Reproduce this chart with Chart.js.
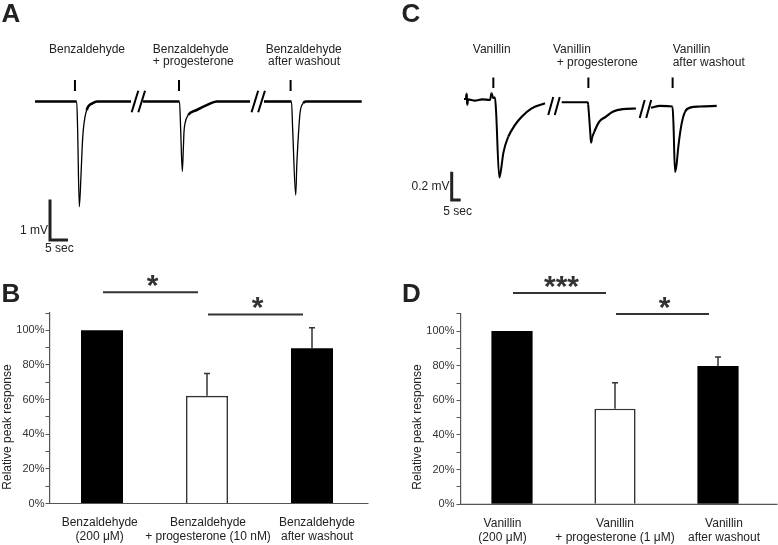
<!DOCTYPE html>
<html><head><meta charset="utf-8">
<script src="https://cdn.jsdelivr.net/npm/chart.js@4.4.1/dist/chart.umd.min.js"></script>
<style>
html,body{margin:0;padding:0;background:#fff;}
#wrap{position:relative;width:778px;height:545px;overflow:hidden;background:#fff;}
#wrap canvas{position:absolute;}
</style></head><body>
<div id="wrap">
<canvas id="cA" width="389" height="265" style="left:0;top:0"></canvas>
<canvas id="cC" width="388" height="265" style="left:390px;top:0"></canvas>
<canvas id="cB" width="390" height="275" style="left:0;top:270px"></canvas>
<canvas id="cD" width="388" height="275" style="left:390px;top:270px"></canvas>
</div>
<script>
// ---------- DATA ----------
// Panel A: benzaldehyde recordings, [time (s), potential (mV)]
const traceA1 = [[0,0],[11.58,0],[11.83,-0.65],[12.31,-2.60],[12.78,-1.81],[13.14,-1.07],[13.42,-0.70],[13.89,-0.38],[14.36,-0.21],[14.81,-0.12],[15.83,-0.05],[17.22,0],[26.67,0]];
const traceA2 = [[30.0,0],[40.14,0],[40.42,-0.58],[40.92,-1.73],[41.19,-1.20],[41.39,-0.75],[41.67,-0.54],[42.58,-0.33],[44.92,-0.21],[47.69,-0.09],[50.47,0],[59.72,0]];
const traceA3 = [[63.61,0],[71.25,0],[71.58,-0.70],[72.42,-2.31],[72.72,-1.57],[73.14,-0.87],[73.61,-0.29],[74.53,-0.04],[75.28,0],[90.75,0]];
const stimA = [11.1, 40.0, 71.0];            // odor pulse times (s)
const breaksA = [[28.7,0],[62.0,0]];         // axis breaks (s, mV)
const scaleA = {mV:1, sec:5};
const labelsA = [['Benzaldehyde'],['Benzaldehyde','+ progesterone'],['Benzaldehyde','after washout']];

// Panel C: vanillin recordings, [time (s), potential (mV)]
const traceC1 = [[0,0.007],[1.11,0.007],[1.5,0.046],[1.78,-0.035],[2.22,0.004],[6.11,-0.004],[10,0.004],[14.44,0],[15.28,0.049],[16.11,0.014],[17.22,0.018],[17.78,-0.071],[19.61,-0.547],[20.56,-0.494],[21.83,-0.376],[24.61,-0.259],[28.33,-0.176],[32.06,-0.118],[37.61,-0.059],[45,-0.023]];
const traceC2 = [[54.28,-0.016],[68.72,-0.016],[68.95,-0.03],[70.2,-0.24],[70.56,-0.301],[71.11,-0.268],[72.39,-0.224],[75.17,-0.153],[78.89,-0.118],[82.61,-0.083],[88.17,-0.064],[95.56,-0.060]];
const traceC3 = [[103.89,-0.054],[108.89,-0.042],[115.83,-0.046],[116.39,-0.176],[117.22,-0.508],[118.06,-0.459],[119.06,-0.330],[120.94,-0.164],[122.78,-0.083],[125.56,-0.054],[131.11,-0.046],[140.39,-0.042]];
const stimC = [16.3, 69.1, 115.9];
const breaksC = [[50,-0.042],[100.8,-0.064]];
const scaleC = {mV:0.2, sec:5};
const labelsC = [['Vanillin'],['Vanillin','+ progesterone'],['Vanillin','after washout']];

// Panel B
const benzCategories = [['Benzaldehyde','(200 μM)'],['Benzaldehyde','+ progesterone (10 nM)'],['Benzaldehyde','after washout']];
const benzMeans = [100, 62.2, 89.7];
const benzErrors = [0, 12.8, 11.8];
const benzComparisons = [[0,1,'*'],[1,2,'*']];

// Panel D
const vanCategories = [['Vanillin','(200 μM)'],['Vanillin','+ progesterone (1 μM)'],['Vanillin','after washout']];
const vanMeans = [100, 55.2, 79.8];
const vanErrors = [0, 15.0, 5.2];
const vanComparisons = [[0,1,'***'],[1,2,'*']];

const yTitle = 'Relative peak response';

// ---------- RENDERING ----------
Chart.defaults.font.family = "'Liberation Sans', Arial, Helvetica, sans-serif";
Chart.defaults.color = '#222';
Chart.defaults.animation = false;
const FONT = "'Liberation Sans', Arial, Helvetica, sans-serif";

function traceChart(id, cfg) {
  const datasets = cfg.segments.map(seg => ({
    data: seg.map(p => ({x:p[0], y:p[1]})),
    borderColor:'#000', borderWidth:cfg.lw, pointRadius:0,
    cubicInterpolationMode:'monotone',
    segment:{borderWidth: c => {
      const dx = Math.abs(c.p1.x - c.p0.x), dy = Math.abs(c.p1.y - c.p0.y);
      return (dy > 6 && dy > 2.5*dx) ? cfg.thin : cfg.lw;
    }}
  }));
  datasets.push({
    data: cfg.stims.flatMap(t => [{x:t,y:cfg.stimLo},{x:t,y:cfg.stimHi},{x:t,y:null}]),
    borderColor:'#000', borderWidth:2, pointRadius:0, spanGaps:false, tension:0
  });
  const a = cfg.scaleAnchor;
  datasets.push({
    data:[{x:a[0],y:a[1]+cfg.scale.mV},{x:a[0],y:a[1]},{x:a[0]+cfg.scale.sec,y:a[1]}],
    borderColor:'#222', borderWidth:3, pointRadius:0, tension:0,
    borderJoinStyle:'miter', borderCapStyle:'butt'
  });
  return new Chart(document.getElementById(id), {
    type:'line',
    data:{datasets},
    options:{
      responsive:false, animation:false, layout:{padding:0},
      plugins:{legend:{display:false}, tooltip:{enabled:false}},
      scales:{
        x:{type:'linear', display:false, min:cfg.xr[0], max:cfg.xr[1]},
        y:{type:'linear', display:false, min:cfg.yr[0], max:cfg.yr[1]}
      }
    },
    plugins:[{
      id:'traceDeco',
      afterDraw(chart){
        const ctx = chart.ctx, xs = chart.scales.x, ys = chart.scales.y;
        ctx.save();
        // axis breaks
        ctx.strokeStyle = '#000'; ctx.lineWidth = 2;
        cfg.breaks.forEach(b => {
          const cx = xs.getPixelForValue(b[0]), cy = ys.getPixelForValue(b[1]);
          const g = cfg.breakGeom;
          [-1,1].forEach(k => {
            const mx = cx + k*g.off/2;
            ctx.beginPath();
            ctx.moveTo(mx - g.dx/2, cy + g.h/2);
            ctx.lineTo(mx + g.dx/2, cy - g.h/2);
            ctx.stroke();
          });
        });
        // texts
        ctx.fillStyle = '#222';
        ctx.font = '12px ' + FONT;
        ctx.textBaseline = 'middle';
        cfg.texts.forEach(t => {
          ctx.textAlign = t.align;
          ctx.fillText(t.s, t.x, t.y);
        });
        // panel letter
        ctx.font = 'bold 26px ' + FONT;
        ctx.textAlign = 'left'; ctx.textBaseline = 'alphabetic';
        ctx.fillText(cfg.letter[0], cfg.letter[1], cfg.letter[2]);
        ctx.restore();
      }
    }]
  });
}

function labelTexts(labels, pos) {
  const out = [];
  labels.forEach((lines, i) => lines.forEach((s, j) => out.push({s, x:pos[i][j][0], y:pos[i][j][1], align:pos[i][j][2]})));
  return out;
}

traceChart('cA', {
  segments:[traceA1, traceA2, traceA3], lw:2.6, thin:1.3,
  stims:stimA, stimLo:0.26, stimHi:0.53,
  scale:scaleA, scaleAnchor:[4.17,-3.42],
  breaks:breaksA, breakGeom:{dx:6.7, off:6.7, h:21.6},
  xr:[-9.722, 98.333], yr:[-4.037, 2.506],
  texts: labelTexts(labelsA, [[[87,49.5,'center']],[[152.7,49.5,'left'],[152.7,62,'left']],[[303.7,49.5,'center'],[304,62,'center']]])
    .concat([{s:'1 mV', x:48, y:230.5, align:'right'},{s:'5 sec', x:45, y:249, align:'left'}]),
  letter:['A', 1.5, 21.7]
});

traceChart('cC', {
  segments:[traceC1, traceC2, traceC3], lw:2.2, thin:2.0,
  stims:stimC, stimLo:0.085, stimHi:0.159,
  scale:scaleC, scaleAnchor:[-6.83,-0.706],
  breaks:breaksC, breakGeom:{dx:5, off:6.5, h:18},
  xr:[-41.11, 174.44], yr:[-1.1644, 0.7057],
  texts: labelTexts(labelsC, [[[101.7,49.5,'center']],[[163,49.5,'left'],[166.7,62.5,'left']],[[282.7,49.5,'left'],[282.7,62.5,'left']]])
    .concat([{s:'0.2 mV', x:59.5, y:186.7, align:'right'},{s:'5 sec', x:53.3, y:211.7, align:'left'}]),
  letter:['C', 11.5, 21.7]
});

function barChart(id, cats, means, errs, comps, L) {
  return new Chart(document.getElementById(id), {
    type:'bar',
    data:{labels:cats, datasets:[{
      data:means,
      backgroundColor: means.map((_,i) => i===1 ? '#fff' : '#000'),
      borderColor:'#333',
      borderWidth: means.map((_,i) => i===1 ? 1.6 : 0),
      barPercentage:0.4, categoryPercentage:1
    }]},
    options:{
      responsive:false, animation:false,
      layout:{padding:{top:L.top, right:L.right, left:0, bottom:0}},
      plugins:{legend:{display:false}, tooltip:{enabled:false}},
      scales:{
        x:{ticks:{display:false}, grid:{display:false, drawTicks:false}, border:{display:false},
           afterFit:s => { s.height = L.xh; }},
        y:{min:0, max:110,
           ticks:{stepSize:10, autoSkip:false, callback:v => (v % 20 === 0 ? v + '%' : ''), font:{size:11}, color:'#333', padding:L.tpad},
           grid:{drawOnChartArea:false, drawTicks:true, tickLength:4, color:'#555', lineWidth:1},
           border:{display:true, color:'#555', width:1.2},
           afterFit:s => { s.width = L.yw; }}
      }
    },
    plugins:[{
      id:'barDeco',
      afterDraw(chart){
        const ctx = chart.ctx, xs = chart.scales.x, ys = chart.scales.y, ca = chart.chartArea;
        const meta = chart.getDatasetMeta(0);
        ctx.save();
        // x axis line
        ctx.strokeStyle = '#555'; ctx.lineWidth = 1.2;
        ctx.beginPath(); ctx.moveTo(ca.left, ca.bottom); ctx.lineTo(ca.right + L.xext, ca.bottom); ctx.stroke();
        // error bars
        ctx.strokeStyle = '#333'; ctx.lineWidth = 1.5;
        means.forEach((m, i) => {
          if (!errs[i]) return;
          const x = meta.data[i].x, yb = ys.getPixelForValue(m), yt = ys.getPixelForValue(m + errs[i]);
          ctx.beginPath(); ctx.moveTo(x, yb); ctx.lineTo(x, yt);
          ctx.moveTo(x - 3, yt); ctx.lineTo(x + 3, yt); ctx.stroke();
        });
        // significance
        ctx.lineWidth = 2; ctx.strokeStyle = '#333'; ctx.fillStyle = '#333';
        comps.forEach((c, k) => {
          const y = ys.getPixelForValue(L.levels[k]);
          const x0 = xs.getPixelForValue(c[0]) + 1, x1 = xs.getPixelForValue(c[1]) - 9;
          ctx.beginPath(); ctx.moveTo(x0, y); ctx.lineTo(x1, y); ctx.stroke();
          ctx.font = 'bold 30px ' + FONT; ctx.textAlign = 'center'; ctx.textBaseline = 'alphabetic';
          ctx.fillText(c[2], (x0 + x1) / 2 + 2, y + 3);
        });
        // category labels
        ctx.fillStyle = '#222'; ctx.font = '12px ' + FONT; ctx.textAlign = 'center'; ctx.textBaseline = 'middle';
        cats.forEach((lines, i) => {
          const x = xs.getPixelForValue(i) + L.labOff[i];
          lines.forEach((s, j) => ctx.fillText(s, x, ca.bottom + 19.5 + j*14));
        });
        // y title
        ctx.save();
        ctx.translate(L.titleX, L.titleY); ctx.rotate(-Math.PI/2);
        ctx.fillText(yTitle, 0, 0);
        ctx.restore();
        // panel letter
        ctx.font = 'bold 26px ' + FONT; ctx.textAlign = 'left'; ctx.textBaseline = 'alphabetic'; ctx.fillStyle = '#222';
        ctx.fillText(L.letter[0], L.letter[1], L.letter[2]);
        ctx.restore();
      }
    }]
  });
}

barChart('cB', benzCategories, benzMeans, benzErrors, benzComparisons,
  {top:43, right:25.5, xh:41.5, yw:49.5, tpad:1, xext:4, levels:[122, 109.2], labOff:[-2.3, 1, 5],
   titleX:8, titleY:157, letter:['B', 1.5, 31.7]});
barChart('cD', vanCategories, vanMeans, vanErrors, vanComparisons,
  {top:43.7, right:8.5, xh:40.7, yw:70.5, tpad:2, xext:8, levels:[122, 109.8], labOff:[-9.5, 0, 6],
   titleX:28, titleY:157, letter:['D', 12, 31.7]});
</script>
</body></html>
